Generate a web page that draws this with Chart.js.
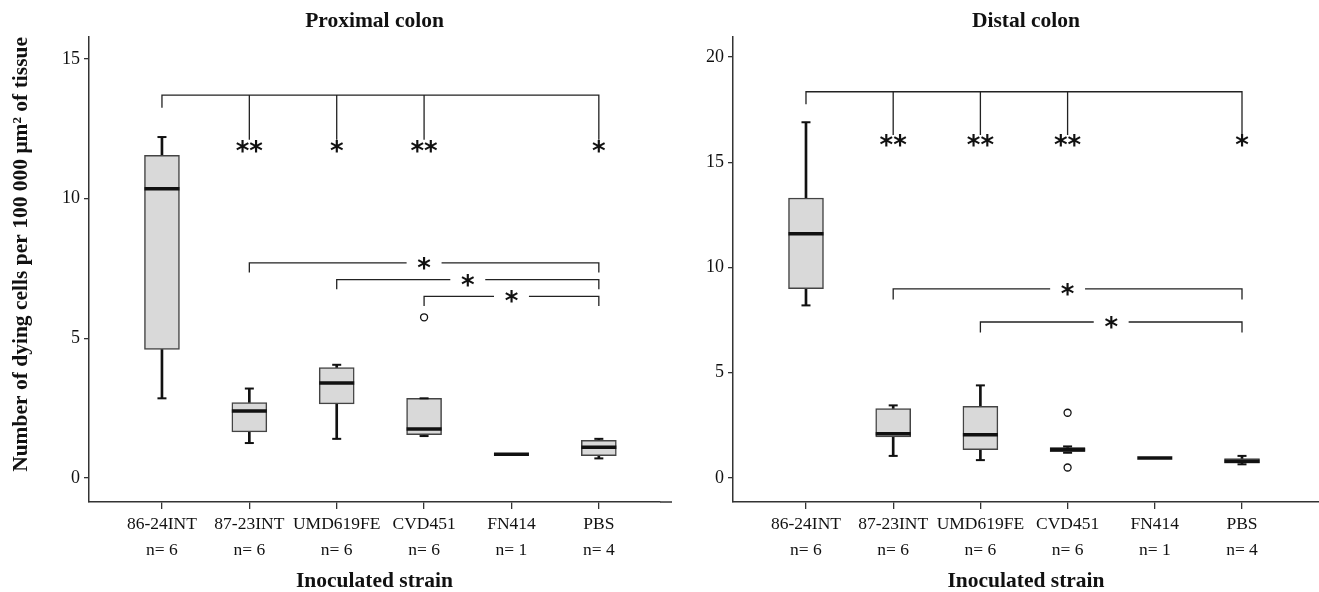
<!DOCTYPE html>
<html>
<head>
<meta charset="utf-8">
<title>Dying cells per colon segment</title>
<script src="https://cdn.jsdelivr.net/npm/chart.js@4.4.1/dist/chart.umd.min.js"></script>
<style>
  body { margin: 0; background: #fff; }
  #wrap { position: relative; width: 1319px; height: 592px; overflow: hidden; }
  #wrap canvas { position: absolute; top: 0; }
  #proxCanvas { left: 0; }
  #distCanvas { left: 660px; }
</style>
</head>
<body>
<div id="wrap">
  <canvas id="proxCanvas" width="680" height="592"></canvas>
  <canvas id="distCanvas" width="659" height="592"></canvas>
</div>
<script>
const categories = ['86-24INT', '87-23INT', 'UMD619FE', 'CVD451', 'FN414', 'PBS'];
const nCounts    = [6, 6, 6, 6, 1, 4];

// Proximal colon (box stats)
const proxLow    = [2.85, 1.25, 1.4, 1.5, 0.85, 0.7];
const proxQ1     = [4.6, 1.65, 2.65, 1.55, 0.85, 0.8];
const proxMedian = [10.35, 2.4, 3.4, 1.75, 0.85, 1.1];
const proxQ3     = [11.55, 2.7, 3.95, 2.85, 0.85, 1.35];
const proxHigh   = [12.2, 3.2, 4.05, 2.85, 0.85, 1.4];
const proxOutX   = [3];
const proxOutY   = [5.75];
const proxTicks  = [0, 5, 10, 15];
// top bracket: bar level, left drop end, right drops end, star level
const proxTopLevels = [13.7, 13.25, 12.1, 11.88];
const proxTopStars  = ['', '**', '*', '**', '', '*'];
// pairwise brackets: from, to, level
const proxPairs     = [[1, 5, 7.7], [2, 5, 7.1], [3, 5, 6.5]];

// Distal colon
const distLow    = [8.2, 1.05, 0.85, 1.2, 0.95, 0.65];
const distQ1     = [9.0, 1.95, 1.35, 1.25, 0.95, 0.7];
const distMedian = [11.6, 2.1, 2.05, 1.35, 0.95, 0.8];
const distQ3     = [13.3, 3.3, 3.4, 1.45, 0.95, 0.92];
const distHigh   = [16.9, 3.45, 4.4, 1.5, 0.95, 1.05];
const distOutX   = [3, 3];
const distOutY   = [3.1, 0.5];
const distTicks  = [0, 5, 10, 15, 20];
const distTopLevels = [18.35, 17.75, 16.3, 16.05];
const distTopStars  = ['', '**', '**', '**', '', '*'];
const distPairs     = [[1, 5, 8.98], [2, 5, 7.41]];

const SERIF = 'Liberation Serif';
const INK = '#111';
const boldTitle = { family: SERIF, size: 21.5, weight: 'bold', lineHeight: 1 };

function bracketPoints(topLevels, topStars, pairs, drop, gap) {
  const pts = [];
  const brk = () => pts.push({ x: 0, y: null });
  const last = topStars.length - 1;
  const [bar, leftEnd, tipEnd] = topLevels;
  pts.push({ x: 0, y: leftEnd }, { x: 0, y: bar }, { x: last, y: bar }, { x: last, y: tipEnd });
  topStars.forEach((s, i) => {
    if (!s || i === last) return;
    brk();
    pts.push({ x: i, y: bar }, { x: i, y: tipEnd });
  });
  pairs.forEach(([a, b, lvl]) => {
    const mid = (a + b) / 2;
    brk();
    pts.push({ x: a, y: lvl - drop }, { x: a, y: lvl }, { x: mid - gap, y: lvl });
    brk();
    pts.push({ x: mid + gap, y: lvl }, { x: b, y: lvl }, { x: b, y: lvl - drop });
  });
  return pts;
}

function starMarks(topLevels, topStars, pairs) {
  const marks = [];
  topStars.forEach((s, i) => { if (s) marks.push({ x: i, y: topLevels[3], text: s }); });
  pairs.forEach(([a, b, lvl]) => marks.push({ x: (a + b) / 2, y: lvl, text: '*' }));
  return marks;
}

const sigTextPlugin = {
  id: 'sigText',
  afterDatasetsDraw(chart, args, opts) {
    const { ctx, chartArea, scales: { x, y } } = chart;
    ctx.save();
    ctx.font = 'bold 26px "DejaVu Sans"';
    ctx.fillStyle = INK;
    ctx.textAlign = 'center';
    ctx.textBaseline = 'alphabetic';
    (opts.marks || []).forEach(m => {
      ctx.fillText(m.text, x.getPixelForValue(m.x), y.getPixelForValue(m.y) + 14);
    });
    if (opts.extendAxis) {
      ctx.strokeStyle = '#333';
      ctx.lineWidth = 1.5;
      ctx.beginPath();
      ctx.moveTo(chartArea.right, chartArea.bottom);
      ctx.lineTo(chartArea.right + opts.extendAxis, chartArea.bottom);
      ctx.stroke();
    }
    ctx.restore();
  }
};

function buildPanel(canvasId, cfg) {
  const xy = (arr) => arr.map((v, i) => ({ x: i, y: v }));
  const caps = cfg.high.map((v, i) => ({ x: i, y: v }))
    .concat(cfg.low.map((v, i) => ({ x: i, y: v })));

  return new Chart(document.getElementById(canvasId), {
    type: 'bar',
    data: {
      datasets: [
        {
          type: 'line',
          data: bracketPoints(cfg.topLevels, cfg.topStars, cfg.pairs, cfg.drop, 0.2),
          borderColor: '#222',
          borderWidth: 1.3,
          pointRadius: 0,
          spanGaps: false,
          tension: 0,
          order: 0,
        },
        {
          type: 'line',
          data: cfg.outX.map((v, i) => ({ x: v, y: cfg.outY[i] })),
          showLine: false,
          pointStyle: 'circle',
          pointRadius: 3.5,
          borderWidth: 1.3,
          borderColor: INK,
          backgroundColor: '#fff',
          order: 1,
        },
        {
          type: 'line',
          data: xy(cfg.median),
          showLine: false,
          pointStyle: 'line',
          pointRadius: 17.5,
          borderWidth: 3.5,
          borderColor: INK,
          order: 2,
        },
        {
          type: 'line',
          data: caps,
          showLine: false,
          pointStyle: 'line',
          pointRadius: 4.5,
          borderWidth: 2,
          borderColor: INK,
          order: 3,
        },
        {
          data: cfg.q1.map((v, i) => ({ x: i, y: [v, cfg.q3[i]] })),
          backgroundColor: '#d9d9d9',
          borderColor: '#444',
          borderWidth: 1.5,
          borderSkipped: false,
          barThickness: 35,
          grouped: false,
          order: 4,
        },
        {
          data: cfg.low.map((v, i) => ({ x: i, y: [v, cfg.q1[i]] }))
            .concat(cfg.q3.map((v, i) => ({ x: i, y: [v, cfg.high[i]] }))),
          backgroundColor: INK,
          borderWidth: 0,
          barThickness: 2,
          grouped: false,
          order: 5,
        },
      ],
    },
    options: {
      responsive: false,
      animation: false,
      devicePixelRatio: 1,
      layout: { autoPadding: false, padding: { left: 0, right: cfg.padRight, top: 0, bottom: 0 } },
      plugins: {
        legend: { display: false },
        tooltip: { enabled: false },
        title: {
          display: true,
          text: cfg.title,
          fullSize: false,
          color: INK,
          font: boldTitle,
          padding: { top: 11, bottom: 4.5 },
        },
        sigText: { marks: starMarks(cfg.topLevels, cfg.topStars, cfg.pairs), extendAxis: cfg.extendAxis },
      },
      scales: {
        x: {
          type: 'linear',
          min: cfg.xMin,
          max: cfg.xMax,
          offset: false,
          afterBuildTicks: s => { s.ticks = categories.map((_, i) => ({ value: i })); },
          afterFit: s => { s.height = 90; s.paddingLeft = 0; s.paddingRight = 0; },
          grid: { offset: false, drawOnChartArea: false, drawTicks: true, tickLength: 7, color: '#333', lineWidth: 1.3 },
          border: { display: true, color: '#333', width: 1.5 },
          ticks: {
            autoSkip: false,
            maxRotation: 0,
            padding: 2,
            color: INK,
            font: { family: SERIF, size: 17.5, lineHeight: 1.49 },
            callback: v => [categories[v], 'n= ' + nCounts[v]],
          },
          title: {
            display: true,
            text: 'Inoculated strain',
            color: INK,
            font: boldTitle,
            padding: { top: 0, bottom: 0 },
          },
        },
        y: {
          min: cfg.yMin,
          max: cfg.yMax,
          afterBuildTicks: s => { s.ticks = cfg.ticks.map(v => ({ value: v })); },
          afterFit: s => { s.width = cfg.yWidth; },
          grid: { drawOnChartArea: false, drawTicks: true, tickLength: 5, color: '#333', lineWidth: 1.3 },
          border: { display: true, color: '#333', width: 1.5 },
          ticks: {
            padding: 4,
            color: INK,
            font: { family: SERIF, size: 18 },
          },
          title: {
            display: !!cfg.yTitle,
            text: cfg.yTitle || '',
            align: 'end',
            color: INK,
            font: boldTitle,
            padding: { top: 11, bottom: 0 },
          },
        },
      },
    },
    plugins: [sigTextPlugin],
  });
}

buildPanel('proxCanvas', {
  title: 'Proximal colon',
  yTitle: 'Number of dying cells per 100 000 μm² of tissue',
  low: proxLow, q1: proxQ1, median: proxMedian, q3: proxQ3, high: proxHigh,
  outX: proxOutX, outY: proxOutY, ticks: proxTicks,
  topLevels: proxTopLevels, topStars: proxTopStars, pairs: proxPairs, drop: 0.35,
  yMin: -0.86, yMax: 15.78, xMin: -0.835, xMax: 5.70,
  yWidth: 89, padRight: 20, extendAxis: 12,
});

buildPanel('distCanvas', {
  title: 'Distal colon',
  low: distLow, q1: distQ1, median: distMedian, q3: distQ3, high: distHigh,
  outX: distOutX, outY: distOutY, ticks: distTicks,
  topLevels: distTopLevels, topStars: distTopStars, pairs: distPairs, drop: 0.5,
  yMin: -1.14, yMax: 20.95, xMin: -0.837, xMax: 5.883,
  yWidth: 73, padRight: 0, extendAxis: 0,
});
</script>
</body>
</html>
